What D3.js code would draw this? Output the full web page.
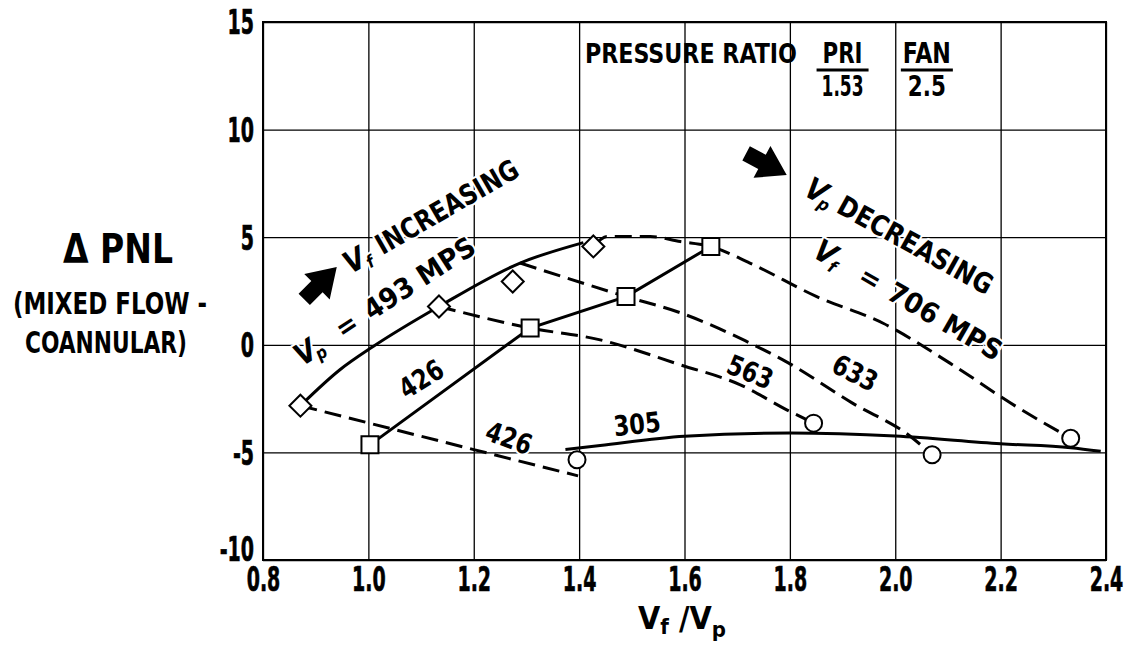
<!DOCTYPE html>
<html>
<head>
<meta charset="utf-8">
<script src="https://cdn.jsdelivr.net/npm/d3@7/dist/d3.min.js"></script>
<style>
    html, body { margin: 0; padding: 0; background: #fff; }
    svg { display: block; }
    text {
        font-family: "Liberation Sans Narrow", "DejaVu Sans Condensed", "DejaVu Sans", sans-serif;
        font-weight: bold;
        fill: #000;
    }
</style>
</head>
<body>
<div id="chart_parent"></div>
<script>
// axis ticks
const xTickValues = [0.8, 1.0, 1.2, 1.4, 1.6, 1.8, 2.0, 2.2, 2.4];
const yTickValues = [-10, -5, 0, 5, 10, 15];

// measured points (Vf/Vp, delta PNL)
const diamondRatio = [0.871, 1.134, 1.274, 1.427];
const diamondPnl = [-2.83, 1.78, 2.94, 4.57];
const squareRatio = [1.003, 1.307, 1.489, 1.650];
const squarePnl = [-4.65, 0.78, 2.24, 4.57];
const circleRatio = [1.396, 1.845, 2.070, 2.333];
const circlePnl = [-5.34, -3.64, -5.11, -4.34];

// faired curves, solid = constant Vp
const vp493Ratio = [0.871, 0.946, 1.009, 1.134, 1.288, 1.408];
const vp493Pnl = [-2.83, -1.16, -0.08, 1.78, 3.80, 4.75];
const vp426Ratio = [1.003, 1.307, 1.489, 1.650];
const vp426Pnl = [-4.65, 0.78, 2.24, 4.57];
const vp305Ratio = [1.374, 1.44, 1.60, 1.80, 2.00, 2.20, 2.333, 2.39];
const vp305Pnl = [-4.87, -4.68, -4.25, -4.10, -4.24, -4.60, -4.78, -4.95];

// dashed = constant Vf
const vf426Ratio = [0.871, 1.2, 1.398];
const vf426Pnl = [-2.83, -4.87, -6.09];
const vf563Ratio = [1.134, 1.307, 1.440, 1.592, 1.706, 1.794, 1.845];
const vf563Pnl = [1.78, 0.78, 0.23, -0.93, -1.86, -3.02, -3.64];
const vf633Ratio = [1.288, 1.489, 1.592, 1.715, 1.797, 1.918, 2.029, 2.070];
const vf633Pnl = [3.80, 2.24, 1.49, 0.19, -0.84, -2.70, -4.26, -5.11];
const vf706Ratio = [1.427, 1.453, 1.535, 1.592, 1.650, 1.724, 1.850, 1.977, 2.103, 2.229, 2.333];
const vf706Pnl = [4.57, 5.03, 5.03, 4.80, 4.57, 3.80, 2.25, 1.00, -0.84, -2.86, -4.34];

const chartConfig = {
    margins: {
        top: 22,
        right: 24,
        bottom: 102,
        left: 263,
    },
    outerWidth: 1130,
    outerHeight: 662,
    gridWidth: 1.3,
    lineWidth: 3,
    tickSquash: 0.64,
};

function zip(xs, ys) {
    return xs.map((v, i) => [v, ys[i]]);
}

function initialiseChartElements(rootSelector, config) {
    const width = config.outerWidth - config.margins.left - config.margins.right;
    const height = config.outerHeight - config.margins.top - config.margins.bottom;

    const svg = d3.select(rootSelector).append('svg')
        .attr('width', config.outerWidth)
        .attr('height', config.outerHeight);

    const chartEl = svg.append('g')
        .attr('transform', `translate(${config.margins.left},${config.margins.top})`);

    const xScale = d3.scaleLinear().domain([0.8, 2.4]).range([0, width]);
    const yScale = d3.scaleLinear().domain([-10, 15]).range([height, 0]);

    return { svg, chartEl, xScale, yScale, width, height };
}

function drawGrid(config, elements) {
    const { chartEl, xScale, yScale, width, height } = elements;

    const xAxisGroup = chartEl.append('g')
        .attr('class', 'x-axis-group')
        .attr('transform', `translate(0,${height})`)
        .call(d3.axisBottom(xScale)
            .tickValues(xTickValues)
            .tickSize(-height)
            .tickPadding(8)
            .tickFormat(d3.format('.1f')));

    const yAxisGroup = chartEl.append('g')
        .attr('class', 'y-axis-group')
        .call(d3.axisLeft(yScale)
            .tickValues(yTickValues)
            .tickSize(-width)
            .tickFormat(d => String(d)));

    [xAxisGroup, yAxisGroup].forEach(g => {
        g.attr('font-family', null);
        g.select('.domain').remove();
        g.selectAll('line').attr('stroke', '#000').attr('stroke-width', config.gridWidth);
        // squash the labels sideways to get the condensed look
        g.selectAll('text')
            .attr('fill', '#000')
            .attr('stroke', '#000')
            .attr('stroke-width', 0.6)
            .attr('font-size', 33)
            .attr('transform', `scale(${config.tickSquash},1)`);
    });
    yAxisGroup.selectAll('text')
        .attr('x', -9 / config.tickSquash)
        .attr('dy', d => (d === -10 ? '0em' : '0.36em'));

    chartEl.append('rect')
        .attr('width', width)
        .attr('height', height)
        .attr('fill', 'none')
        .attr('stroke', '#000')
        .attr('stroke-width', 2);
}

function drawCurve(config, elements, xs, ys, dashed) {
    const { chartEl, xScale, yScale } = elements;
    const line = d3.line()
        .x(d => xScale(d[0]))
        .y(d => yScale(d[1]))
        .curve(xs.length > 4 ? d3.curveMonotoneX : d3.curveLinear);

    chartEl.append('path')
        .datum(zip(xs, ys))
        .attr('d', line)
        .attr('fill', 'none')
        .attr('stroke', '#000')
        .attr('stroke-width', config.lineWidth)
        .attr('stroke-dasharray', dashed ? '17,8' : null);
}

function drawMarkers(elements, xs, ys, shape) {
    const { chartEl, xScale, yScale } = elements;
    const symbols = {
        diamond: 'M0,-11L11,0L0,11L-11,0Z',
        square: 'M-8.5,-8.5H8.5V8.5H-8.5Z',
        circle: d3.arc()({ innerRadius: 0, outerRadius: 8.5, startAngle: 0, endAngle: 2 * Math.PI }),
    };
    chartEl.selectAll(`.marker-${shape}`)
        .data(zip(xs, ys))
        .enter()
        .append('path')
        .attr('class', `marker-${shape}`)
        .attr('transform', d => `translate(${xScale(d[0])},${yScale(d[1])})`)
        .attr('d', symbols[shape])
        .attr('fill', '#fff')
        .attr('stroke', '#000')
        .attr('stroke-width', 2);
}

function rotatedGroup(elements, x, y, angle) {
    const { chartEl, xScale, yScale } = elements;
    return chartEl.append('g')
        .attr('transform', `translate(${xScale(x)},${yScale(y)}) rotate(${angle})`);
}

function haloText(g, str, x, size, len) {
    const t = g.append('text')
        .attr('x', x)
        .attr('dy', '0.36em')
        .attr('text-anchor', 'middle')
        .attr('font-size', size)
        .attr('stroke', '#fff')
        .attr('stroke-width', 4)
        .attr('paint-order', 'stroke')
        .text(str);
    if (len) {
        t.attr('textLength', len).attr('lengthAdjust', 'spacingAndGlyphs');
    }
    return t;
}

function velocityLabel(elements, x, y, angle, sub, rest) {
    const g = rotatedGroup(elements, x, y, angle);
    haloText(g, 'V', 0, 30).attr('font-style', 'italic');
    haloText(g, sub, 13, 17).attr('font-style', 'italic').attr('dy', '0.9em');
    rest.forEach(([str, offset, len]) => haloText(g, str, offset, 28, len));
}

function drawArrow(elements, x, y, angle) {
    const g = rotatedGroup(elements, x, y, angle);
    g.append('path')
        .attr('d', 'M0,0L-28,-18L-28,-8L-46,-8L-46,8L-28,8L-28,18Z')
        .attr('fill', '#000');
}

function drawAnnotations(elements) {
    const { chartEl, xScale, yScale } = elements;

    // curve values
    const curveTags = [
        ['426', 1.100, -1.58, -32],
        ['426', 1.267, -4.32, 20],
        ['305', 1.510, -3.67, -6],
        ['563', 1.725, -1.25, 22],
        ['633', 1.924, -1.30, 27],
    ];
    curveTags.forEach(([str, x, y, a]) => {
        haloText(rotatedGroup(elements, x, y, a), str, 0, 28, 47);
    });

    velocityLabel(elements, 0.973, 3.94, -30, 'f', [['INCREASING', 107, 160]]);
    velocityLabel(elements, 0.880, -0.33, -33, 'p', [['=', 49], ['493 MPS', 136, 127]]);
    velocityLabel(elements, 1.851, 7.19, 29, 'p', [['DECREASING', 113, 173]]);
    velocityLabel(elements, 1.868, 4.31, 30, 'f', [['=', 52], ['706 MPS', 138, 127]]);

    drawArrow(elements, 0.940, 3.62, -45);
    drawArrow(elements, 1.794, 7.89, 28);

    // pressure ratio block
    const px = xScale(1.411);
    const base = yScale(13.1);
    chartEl.append('text')
        .attr('x', px).attr('y', base)
        .attr('font-size', 27)
        .attr('textLength', 212).attr('lengthAdjust', 'spacingAndGlyphs')
        .text('PRESSURE RATIO');
    [['PRI', '1.53', 1.9, 40, 42], ['FAN', '2.5', 2.06, 48, 38]].forEach(([top, bottom, cx, w1, w2]) => {
        const x = xScale(cx);
        chartEl.append('text').attr('x', x).attr('y', base).attr('text-anchor', 'middle')
            .attr('font-size', 28)
            .attr('textLength', w1).attr('lengthAdjust', 'spacingAndGlyphs')
            .text(top);
        chartEl.append('line')
            .attr('x1', x - 26).attr('x2', x + 26)
            .attr('y1', base + 7).attr('y2', base + 7)
            .attr('stroke', '#000').attr('stroke-width', 3);
        chartEl.append('text').attr('x', x).attr('y', base + 33).attr('text-anchor', 'middle')
            .attr('font-size', 28)
            .attr('textLength', w2).attr('lengthAdjust', 'spacingAndGlyphs')
            .text(bottom);
    });
}

function drawAxisTitles(elements) {
    const { svg } = elements;

    svg.append('text')
        .attr('x', 118).attr('y', 263)
        .attr('text-anchor', 'middle')
        .attr('font-size', 41)
        .attr('textLength', 110).attr('lengthAdjust', 'spacingAndGlyphs')
        .text('\u0394 PNL');
    svg.append('text')
        .attr('x', 110).attr('y', 314)
        .attr('text-anchor', 'middle')
        .attr('font-size', 30)
        .attr('textLength', 194).attr('lengthAdjust', 'spacingAndGlyphs')
        .text('(MIXED FLOW -');
    svg.append('text')
        .attr('x', 106).attr('y', 353)
        .attr('text-anchor', 'middle')
        .attr('font-size', 30)
        .attr('textLength', 162).attr('lengthAdjust', 'spacingAndGlyphs')
        .text('COANNULAR)');

    const title = svg.append('text')
        .attr('x', 682).attr('y', 629)
        .attr('text-anchor', 'middle')
        .attr('font-size', 32);
    title.append('tspan').text('V');
    title.append('tspan').attr('font-size', 22).attr('dy', 5).text('f');
    title.append('tspan').attr('dy', -5).text(' /V');
    title.append('tspan').attr('font-size', 22).attr('dy', 8).text('p');
}

const chartElements = initialiseChartElements('#chart_parent', chartConfig);

drawGrid(chartConfig, chartElements);

drawCurve(chartConfig, chartElements, vp493Ratio, vp493Pnl, false);
drawCurve(chartConfig, chartElements, vp426Ratio, vp426Pnl, false);
drawCurve(chartConfig, chartElements, vp305Ratio, vp305Pnl, false);
drawCurve(chartConfig, chartElements, vf426Ratio, vf426Pnl, true);
drawCurve(chartConfig, chartElements, vf563Ratio, vf563Pnl, true);
drawCurve(chartConfig, chartElements, vf633Ratio, vf633Pnl, true);
drawCurve(chartConfig, chartElements, vf706Ratio, vf706Pnl, true);

drawMarkers(chartElements, diamondRatio, diamondPnl, 'diamond');
drawMarkers(chartElements, squareRatio, squarePnl, 'square');
drawMarkers(chartElements, circleRatio, circlePnl, 'circle');

drawAnnotations(chartElements);
drawAxisTitles(chartElements);
</script>
</body>
</html>
